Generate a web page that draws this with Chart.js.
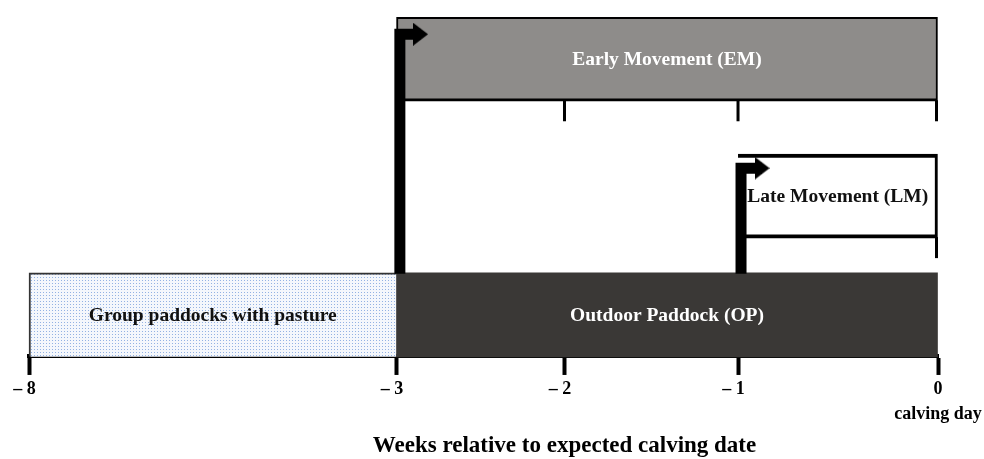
<!DOCTYPE html>
<html>
<head>
<meta charset="utf-8">
<script src="https://cdn.jsdelivr.net/npm/chart.js@4/dist/chart.umd.min.js"></script>
<style>
    html, body { margin: 0; padding: 0; background: #fff; }
    #wrap { width: 984px; height: 459px; position: relative; }
</style>
</head>
<body>
<div id="wrap"><canvas id="timeline"></canvas></div>
<script>
// --- DATA (weeks relative to expected calving date) ---
const weekTicks = [-8, -3, -2, -1, 0];
// trailing en space keeps the digit (not the dash) under its tick
const tickLabels = ['\u2013 8\u2002', '\u2013 3\u2002', '\u2013 2\u2002', '\u2013 1\u2002', ['0', 'calving day']];

const barLabels = ['Group paddocks with pasture', 'Outdoor Paddock (OP)', 'Late Movement (LM)', 'Early Movement (EM)'];
const barStart = [-8, -3, -1, -3];
const barEnd = [-3, 0, 0, 0];
const barLane = [0.5, 0.5, 1.945, 3.61];

// movement arrows: up from the paddock bar, then right
const emArrowX = [-2.98, -2.98, -2.857];
const emArrowY = [1, 3.915, 3.915];
const lmArrowX = [-0.985, -0.985, -0.88];
const lmArrowY = [1, 2.285, 2.285];

// small ticks hanging under the movement boxes
const emTickWeeks = [-2, -1, 0];
const lmTickWeeks = [0];

const axisTitle = 'Weeks relative to expected calving date';

const SERIF = "'Liberation Serif', 'Times New Roman', serif";

// --- PIECEWISE LINEAR SCALE (weeks before -3 are compressed) ---
class PiecewiseScale extends Chart.LinearScale {
    _toDecimal(v) {
        const s = this.options.stops;
        let i = 0;
        while (i < s.length - 2 && v > s[i + 1][0]) i++;
        const [v0, d0] = s[i];
        const [v1, d1] = s[i + 1];
        return d0 + (v - v0) * (d1 - d0) / (v1 - v0);
    }
    getPixelForValue(value) {
        if (value === null || isNaN(value)) return NaN;
        return this.getPixelForDecimal(this._toDecimal(value));
    }
    getValueForPixel(pixel) {
        const d = this.getDecimalForPixel(pixel);
        const s = this.options.stops;
        let i = 0;
        while (i < s.length - 2 && d > s[i + 1][1]) i++;
        const [v0, d0] = s[i];
        const [v1, d1] = s[i + 1];
        return v0 + (d - d0) * (v1 - v0) / (d1 - d0);
    }
}
PiecewiseScale.id = 'piecewise';
PiecewiseScale.defaults = Chart.LinearScale.defaults;
Chart.register(PiecewiseScale);

function dotPattern() {
    const c = document.createElement('canvas');
    c.width = 3; c.height = 3;
    const g = c.getContext('2d');
    g.fillStyle = '#f4f7fc';
    g.fillRect(0, 0, 3, 3);
    g.fillStyle = '#93b2e3';
    g.fillRect(1, 1, 1, 1);
    return g.createPattern(c, 'repeat');
}

function arrowHead() {
    const c = document.createElement('canvas');
    c.width = 15; c.height = 23;
    const g = c.getContext('2d');
    g.fillStyle = '#000';
    g.beginPath();
    g.moveTo(0, 0);
    g.lineTo(15, 11.5);
    g.lineTo(0, 23);
    g.closePath();
    g.fill();
    return c;
}

const toPoints = (xs, ys) => xs.map((x, i) => ({ x, y: ys[i] }));

const barFill = [dotPattern(), '#3a3836', '#ffffff', '#8e8c8a'];
const barBorder = [
    { top: 2, left: 2, right: 0, bottom: 0 },
    0,
    { top: 4, left: 0, right: 3, bottom: 4 },
    { top: 2, left: 2, right: 2, bottom: 3 }
];
const labelColors = ['#111', '#fff', '#111', '#fff'];

const head = arrowHead();
const arrowStyle = {
    type: 'line',
    borderColor: '#000',
    borderWidth: 11,
    borderJoinStyle: 'miter',
    borderCapStyle: 'butt',
    tension: 0,
    fill: false,
    clip: false,
    pointStyle: head,
    pointRadius: [0, 0, 8],
    pointHoverRadius: [0, 0, 8],
    order: 1
};

// --- OVERLAY: bar labels, hanging ticks, axis title ---
const overlayPlugin = {
    id: 'overlay',
    afterDatasetsDraw(chart) {
        const { ctx, chartArea } = chart;
        const x = chart.scales.x;
        const bars = chart.getDatasetMeta(2).data;
        ctx.save();
        ctx.font = `bold 19.5px ${SERIF}`;
        ctx.textAlign = 'center';
        ctx.textBaseline = 'middle';
        bars.forEach((el, i) => {
            ctx.fillStyle = labelColors[i];
            ctx.fillText(barLabels[i], (el.x + el.base) / 2, el.y + 1);
        });

        ctx.fillStyle = '#000';
        const hang = (weeks, el) => {
            const bottom = el.y + el.height / 2;
            weeks.forEach(w => {
                const px = Math.min(x.getPixelForValue(w) - 1.5, chartArea.right - 3);
                ctx.fillRect(px, bottom - 1, 3, 21);
            });
        };
        hang(emTickWeeks, bars[3]);
        hang(lmTickWeeks, bars[2]);
        ctx.restore();
    },
    afterDraw(chart) {
        const { ctx } = chart;
        ctx.save();
        ctx.font = `bold 23px ${SERIF}`;
        ctx.fillStyle = '#000';
        ctx.textAlign = 'center';
        ctx.textBaseline = 'middle';
        ctx.fillText(axisTitle, chart.scales.x.getPixelForValue(-2), 446);
        ctx.restore();
    }
};

new Chart(document.getElementById('timeline'), {
    type: 'bar',
    data: {
        datasets: [
            { ...arrowStyle, data: toPoints(emArrowX, emArrowY) },
            { ...arrowStyle, data: toPoints(lmArrowX, lmArrowY) },
            {
                type: 'bar',
                indexAxis: 'y',
                data: barLane.map((y, i) => ({ x: [barStart[i], barEnd[i]], y })),
                backgroundColor: barFill,
                borderColor: ['#333', '#3a3836', '#000', '#000'],
                borderWidth: ctx => barBorder[ctx.dataIndex],
                borderSkipped: false,
                barThickness: 84,
                grouped: false,
                clip: false,
                order: 2
            }
        ]
    },
    options: {
        responsive: true,
        maintainAspectRatio: false,
        animation: false,
        events: [],
        layout: { padding: { top: 12, left: 29, right: 46, bottom: 30 } },
        plugins: {
            legend: { display: false },
            tooltip: { enabled: false },
            title: { display: false }
        },
        scales: {
            x: {
                type: 'piecewise',
                position: 'bottom',
                offset: false,
                min: -8,
                max: 0,
                stops: [[-8, 0], [-3, 0.4043], [-2, 0.5891], [-1, 0.78], [0, 1]],
                z: 1,
                afterBuildTicks: axis => { axis.ticks = weekTicks.map(v => ({ value: v })); },
                ticks: {
                    autoSkip: false,
                    maxRotation: 0,
                    padding: 2,
                    color: '#000',
                    font: { family: SERIF, size: 18, weight: 'bold', lineHeight: 1.39 },
                    callback: (v) => tickLabels[weekTicks.indexOf(v)]
                },
                grid: {
                    display: true,
                    offset: false,
                    drawOnChartArea: false,
                    drawTicks: true,
                    tickLength: 19,
                    tickWidth: 4,
                    tickColor: '#000'
                },
                border: { display: true, color: '#000', width: 4 }
            },
            y: {
                type: 'linear',
                offset: false,
                grid: { offset: false },
                min: 0,
                max: 4.1,
                display: false
            }
        }
    },
    plugins: [overlayPlugin]
});
</script>
</body>
</html>
